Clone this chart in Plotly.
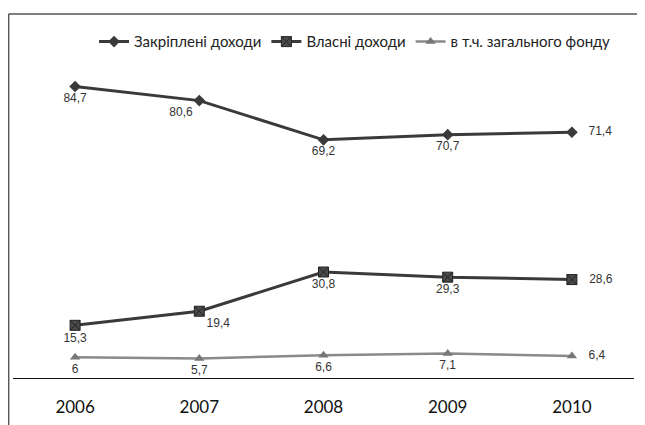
import plotly.graph_objects as go

years = ["2006", "2007", "2008", "2009", "2010"]
zakripleni = [84.7, 80.6, 69.2, 70.7, 71.4]
vlasni = [15.3, 19.4, 30.8, 29.3, 28.6]
zahalnoho = [6.0, 5.7, 6.6, 7.1, 6.4]

labels_z = ["84,7", "80,6", "69,2", "70,7", "71,4"]
labels_v = ["15,3", "19,4", "30,8", "29,3", "28,6"]
labels_g = ["6", "5,7", "6,6", "7,1", "6,4"]

names = ["Закріплені доходи", "Власні доходи", "в т.ч. загального фонду"]

pos_z = ["bottom center", "bottom left", "bottom center", "bottom center", "middle right"]
pos_v = ["bottom center", "bottom right", "bottom center", "bottom center", "middle right"]
pos_g = ["bottom center", "bottom center", "bottom center", "bottom center", "middle right"]


def pad(labels, positions):
    return [("   " + t) if p == "middle right" else t for t, p in zip(labels, positions)]


label_font = dict(size=12, color="#333333", family="Liberation Sans Narrow, Liberation Sans")

fig = go.Figure()
fig.add_trace(go.Scatter(
    x=years, y=zakripleni, name=names[0], mode="lines+markers+text",
    text=pad(labels_z, pos_z), textposition=pos_z,
    line=dict(color="#3a3a3a", width=3),
    marker=dict(symbol="diamond", size=9, color="#3a3a3a"),
    textfont=label_font,
))
fig.add_trace(go.Scatter(
    x=years, y=vlasni, name=names[1], mode="lines+markers+text",
    text=pad(labels_v, pos_v), textposition=pos_v,
    line=dict(color="#3a3a3a", width=3),
    marker=dict(symbol="square-x", size=10, color="#4a4a4a", line=dict(color="#222222", width=1)),
    textfont=label_font,
))
fig.add_trace(go.Scatter(
    x=years, y=zahalnoho, name=names[2], mode="lines+markers+text",
    text=pad(labels_g, pos_g), textposition=pos_g,
    line=dict(color="#8a8a8a", width=2.5),
    marker=dict(symbol="triangle-up", size=9, color="#777777"),
    textfont=label_font,
))

fig.update_layout(
    width=645, height=425,
    margin=dict(l=5, r=19, t=52, b=55),
    paper_bgcolor="white", plot_bgcolor="white",
    showlegend=True,
    legend=dict(orientation="h", x=0.55, xanchor="center", y=1.057, yanchor="middle",
                font=dict(size=15, color="#222222", family="Lato"),
                itemwidth=30, tracegroupgap=0, bgcolor="rgba(0,0,0,0)"),
    xaxis=dict(type="category", range=[-0.5, 4.5], showline=True, linecolor="#111111",
               linewidth=1, ticks="", showgrid=False, zeroline=False,
               ticklabelstandoff=14,
               tickfont=dict(size=17, color="#111111", family="Lato")),
    yaxis=dict(range=[0, 92.4], visible=False, showgrid=False, zeroline=False),
    shapes=[
        dict(type="line", xref="paper", yref="paper", x0=-0.007, x1=1.03, y0=1.145, y1=1.145,
             line=dict(color="#555555", width=1.5)),
        dict(type="line", xref="paper", yref="paper", x0=-0.007, x1=-0.007, y0=-0.2, y1=1.145,
             line=dict(color="#555555", width=1.5)),
    ],
)

fig.write_html("out.html")
